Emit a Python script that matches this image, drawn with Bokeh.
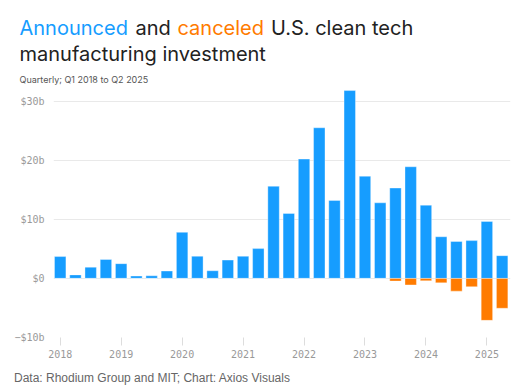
from bokeh.plotting import figure
from bokeh.models import Range1d, FixedTicker, Label
from bokeh.layouts import column, row
from bokeh.embed import file_html
from bokeh.resources import INLINE

# ---- data ----
years = [2018]*4 + [2019]*4 + [2020]*4 + [2021]*4 + [2022]*4 + [2023]*4 + [2024]*4 + [2025]*2
quarters = [1, 2, 3, 4]*7 + [1, 2]
announced = [3.7, 0.6, 1.9, 3.2, 2.5, 0.4, 0.45, 1.25,
             7.8, 3.75, 1.3, 3.1, 3.75, 5.05, 15.6, 11.0,
             20.2, 25.5, 13.2, 31.8, 17.3, 12.8, 15.3, 18.9,
             12.4, 7.05, 6.25, 6.4, 9.65, 3.85]
canceled = [0, 0, 0, 0, 0, 0, 0, 0,
            0, 0, 0, 0, 0, 0, 0, 0,
            0, 0, 0, 0, 0, 0, -0.45, -1.1,
            -0.4, -0.75, -2.15, -1.4, -7.1, -5.05]
y_ticks = [-10, 0, 10, 20, 30]
y_tick_labels = ["\u2212$10b", "$0", "$10b", "$20b", "$30b"]
x_ticks = [2018, 2019, 2020, 2021, 2022, 2023, 2024, 2025]
x_tick_labels = ["2018", "2019", "2020", "2021", "2022", "2023", "2024", "2025"]

BLUE = "#169dff"
ORANGE = "#ff7b00"
W = 519
FL, FR = 53, 9  # chart frame borders

xpos = [y + (q - 1) / 4 for y, q in zip(years, quarters)]

def text_fig(h):
    f = figure(width=W, height=h, x_range=Range1d(0, W), y_range=Range1d(h, 0),
               output_backend="svg", toolbar_location=None,
               x_axis_location=None, y_axis_location=None, min_border=0)
    f.grid.visible = False
    f.outline_line_color = None
    return f

def lab(fig, x, y, text, color, size, font):
    fig.add_layout(Label(x=x, y=y, text=text, text_color=color, text_font_size=size,
                         text_font=font, text_baseline="alphabetic", text_align="left"))

# ---- title figure ----
TH = 86
t = text_fig(TH)
lab(t, 19, 27, "Announced", BLUE, "20px", "Inter")
lab(t, 135, 27, "and", "#222222", "20px", "Inter")
lab(t, 177, 27, "canceled", ORANGE, "20px", "Inter")
lab(t, 270.5, 27, "U.S. clean tech", "#222222", "20px", "Inter")
lab(t, 19, 53, "manufacturing investment", "#222222", "20px", "Inter")
lab(t, 19, 78.5, "Quarterly; Q1 2018 to Q2 2025", "#555555", "9px", "Inter")

# ---- chart ----
CH = 275
p = figure(width=W, height=CH, x_range=Range1d(2017.89, 2025.387), y_range=Range1d(-10, 32.49),
           output_backend="svg", toolbar_location=None,
           min_border_left=FL, min_border_right=FR, min_border_top=0, min_border_bottom=24)
p.outline_line_color = None
p.xgrid.visible = False
p.ygrid.ticker = FixedTicker(ticks=y_ticks)
p.ygrid.grid_line_color = "#e9e9e9"
p.ygrid.grid_line_width = 1

p.vbar(x=xpos, top=announced, bottom=0, width=0.1875, fill_color=BLUE,
       line_color="white", line_alpha=0.35, line_width=1)
p.vbar(x=xpos, top=0, bottom=canceled, width=0.1875, fill_color=ORANGE,
       line_color="white", line_alpha=0.35, line_width=1)

p.yaxis.ticker = FixedTicker(ticks=y_ticks)
p.yaxis.major_label_overrides = dict(zip(y_ticks, y_tick_labels))
p.yaxis.axis_line_color = None
p.yaxis.major_tick_line_color = None
p.yaxis.minor_tick_line_color = None
p.yaxis.major_label_standoff = 3
p.yaxis.major_label_text_font = "DejaVu Sans Mono"
p.yaxis.major_label_text_font_size = "10px"
p.yaxis.major_label_text_color = "#999999"

p.xaxis.ticker = FixedTicker(ticks=x_ticks)
p.xaxis.major_label_overrides = dict(zip(x_ticks, x_tick_labels))
p.xaxis.axis_line_color = None
p.xaxis.major_tick_line_color = "#dddddd"
p.xaxis.major_tick_line_width = 1
p.xaxis.major_tick_out = 8
p.xaxis.major_tick_in = 0
p.xaxis.minor_tick_line_color = None
p.xaxis.major_label_standoff = 4
p.xaxis.major_label_text_font = "DejaVu Sans Mono"
p.xaxis.major_label_text_font_size = "10px"
p.xaxis.major_label_text_color = "#999999"

# ---- caption ----
FH = 392 - TH - CH
c = text_fig(FH)
lab(c, 13.5, 16, "Data: Rhodium Group and MIT; Chart: Axios Visuals", "#666666", "12px", "Liberation Sans")

layout = column(t, row(p, spacing=0), c, spacing=0)
open("out.html", "w").write(file_html(layout, INLINE))
